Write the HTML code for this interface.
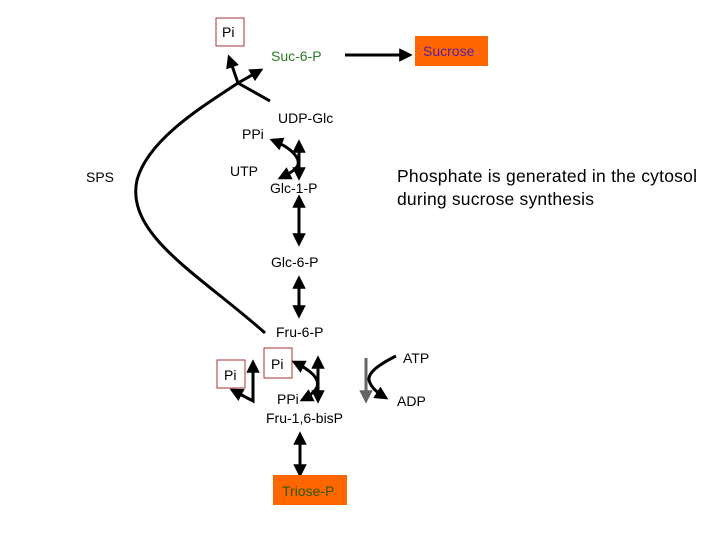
<!DOCTYPE html>
<html><head><style>
body{margin:0;width:720px;height:540px;background:#fff;overflow:hidden}
svg{position:absolute;left:0;top:0}
text{font-family:"Liberation Sans",sans-serif;font-size:14px}
</style></head><body>
<svg width="720" height="540" viewBox="0 0 720 540">
<defs>
<marker id="a" viewBox="0 0 10 10" refX="8" refY="5" markerWidth="4.5" markerHeight="4.5" orient="auto-start-reverse"><path d="M0,0L10,5L0,10z" fill="#000"/></marker>
<marker id="g" viewBox="0 0 10 10" refX="8" refY="5" markerWidth="4.5" markerHeight="4.5" orient="auto-start-reverse"><path d="M0,0L10,5L0,10z" fill="#666"/></marker>
</defs>
<g stroke="#000" stroke-width="3" fill="none">
<rect x="216" y="18" width="28" height="28" stroke="#a33" stroke-width="1"/>
<rect x="264" y="348" width="28" height="30" stroke="#a33" stroke-width="1"/>
<rect x="217" y="360" width="28" height="28" stroke="#a33" stroke-width="1"/>
<line x1="345" y1="55" x2="410" y2="55" marker-end="url(#a)"/>
<path d="M265,333 C200,275 125,235 137,180 C148,140 200,108 238,83 L261,70" marker-end="url(#a)"/>
<path d="M270,101 L238,83 L229,57" marker-end="url(#a)"/>
<line x1="299" y1="142" x2="299" y2="178" marker-start="url(#a)" marker-end="url(#a)"/>
<path d="M272,140 C292,148 300,158 298,165 C295,171 288,174 280,178" marker-start="url(#a)" marker-end="url(#a)"/>
<line x1="299" y1="197" x2="299" y2="244" marker-start="url(#a)" marker-end="url(#a)"/>
<line x1="299" y1="278" x2="299" y2="316" marker-start="url(#a)" marker-end="url(#a)"/>
<line x1="318" y1="358" x2="318" y2="401" marker-start="url(#a)" marker-end="url(#a)"/>
<path d="M294,362 C310,370 320,378 317,387 C314,393 308,397 302,400" marker-start="url(#a)" marker-end="url(#a)"/>
<path d="M253,362 L253,401 L232,390" marker-start="url(#a)" marker-end="url(#a)"/>
<line x1="366" y1="358" x2="366" y2="401" stroke="#666" marker-end="url(#g)"/>
<path d="M396,356 C380,364 368,372 369,380 C371,388 378,393 386,398" marker-end="url(#a)"/>
<line x1="300" y1="434" x2="300" y2="475" marker-start="url(#a)" marker-end="url(#a)"/>
</g>
<rect x="415" y="36" width="73" height="30" fill="#ff6600"/>
<rect x="273" y="475" width="74" height="30" fill="#ff6600"/>
<text x="222" y="37">Pi</text>
<text x="423" y="56" fill="#5520a0">Sucrose</text>
<text x="271" y="61" fill="#2a7a2a">Suc-6-P</text>
<text x="278" y="123">UDP-Glc</text>
<text x="242" y="139">PPi</text>
<text x="230" y="176">UTP</text>
<text x="86" y="182">SPS</text>
<text x="270" y="193">Glc-1-P</text>
<text x="271" y="267">Glc-6-P</text>
<text x="276" y="337">Fru-6-P</text>
<text x="271" y="369">Pi</text>
<text x="224" y="380">Pi</text>
<text x="403" y="363">ATP</text>
<text x="397" y="406">ADP</text>
<text x="277" y="404">PPi</text>
<text x="266" y="423">Fru-1,6-bisP</text>
<text x="282" y="496" fill="#2a5a00">Triose-P</text>
<text x="397" y="182" style="font-size:17.5px" textLength="300">Phosphate is generated in the cytosol</text>
<text x="397" y="205" style="font-size:17.5px" textLength="197">during sucrose synthesis</text>
</svg>
</body></html>
